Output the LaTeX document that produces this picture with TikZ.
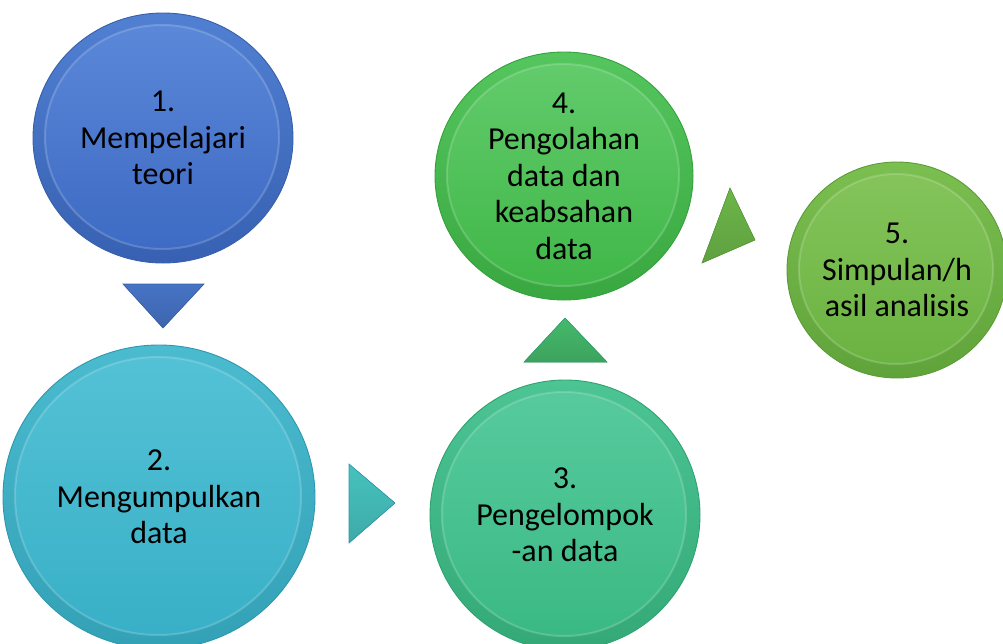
\documentclass[tikz,border=0pt]{standalone}
\usepackage{fontspec}
\newfontfamily\bubblefont{Carlito}
\usetikzlibrary{shapes.geometric,calc}

\tikzset{
  % bevelled disc: outer rim + slightly smaller inner face
  bubble/.style n args={4}{
    ellipse, inner sep=0pt, align=center,
    font=\bubblefont\fontsize{32}{36.5}\selectfont, text=black,
    top color=#2, bottom color=#3!92!black, draw=#4, line width=0.9pt,
    path picture={
      \shade[top color=#1, bottom color=#3]
        let \p1=(path picture bounding box.north east),
            \p2=(path picture bounding box.center) in
        ($(\p2)+(-1,-1)$) ellipse [x radius={\x1-\x2-13pt}, y radius={\y1-\y2-13pt}];
      \draw[white, opacity=0.18, line width=2pt]
        let \p1=(path picture bounding box.north east),
            \p2=(path picture bounding box.center) in
        ($(\p2)+(-1,-1)$) ellipse [x radius={\x1-\x2-13pt}, y radius={\y1-\y2-13pt}];
    }
  },
  pointer/.style 2 args={top color=#1, bottom color=#1!88!black, draw=#2, line width=0.6pt, line join=miter},
}

\definecolor{bA}{HTML}{5C89D9}\definecolor{bB}{HTML}{5180D2}\definecolor{bC}{HTML}{3C69C2}\definecolor{bE}{HTML}{3860AA}
\definecolor{cA}{HTML}{55C2D6}\definecolor{cB}{HTML}{4BBBD0}\definecolor{cC}{HTML}{37AFC6}\definecolor{cE}{HTML}{2E98AE}
\definecolor{dA}{HTML}{58CB9F}\definecolor{dB}{HTML}{4CC494}\definecolor{dC}{HTML}{39B882}\definecolor{dE}{HTML}{2FA271}
\definecolor{eA}{HTML}{64CC6D}\definecolor{eB}{HTML}{55C65E}\definecolor{eC}{HTML}{3EB646}\definecolor{eE}{HTML}{35A13D}
\definecolor{fA}{HTML}{86C55C}\definecolor{fB}{HTML}{7BBF50}\definecolor{fC}{HTML}{68B13F}\definecolor{fE}{HTML}{5B9C37}
\definecolor{tA}{HTML}{4673C5}\definecolor{tB}{HTML}{46C2BE}\definecolor{tC}{HTML}{45B96B}\definecolor{tD}{HTML}{6CB649}

\begin{document}
\begin{tikzpicture}[x=1pt,y=-1pt]
\useasboundingbox (0,0) rectangle (1003,643);
\clip (0,0) rectangle (1003,643);

% process stages
\node[bubble={bA}{bB}{bC}{bE}, minimum width=260pt, minimum height=250pt]
  (s1) at (163,138) {1.\\Mempelajari\\teori};
\node[bubble={cA}{cB}{cC}{cE}, minimum width=312pt, minimum height=304pt]
  (s2) at (159,497) {2.\\Mengumpulkan\\data};
\node[bubble={dA}{dB}{dC}{dE}, minimum width=270pt, minimum height=270pt]
  (s3) at (565,515) {3.\\Pengelompok\\-an data};
\node[bubble={eA}{eB}{eC}{eE}, minimum width=258pt, minimum height=248pt]
  (s4) at (564,176) {4.\\Pengolahan\\data dan\\keabsahan\\data};
\node[bubble={fA}{fB}{fC}{fE}, minimum width=220pt, minimum height=216pt]
  (s5) at (897,270) {5.\\Simpulan/h\\asil analisis};

% arrowheads between stages
\filldraw[pointer={tA}{bE}] (123,284) -- (204,284) -- (163,328) -- cycle;
\filldraw[pointer={tB}{cE}] (349,464) -- (395,503) -- (349,543) -- cycle;
\filldraw[pointer={tC}{dE}] (524,362) -- (565,318) -- (607,362) -- cycle;
\filldraw[pointer={tD}{fE}] (730,188) -- (755,240) -- (702,263) -- cycle;
\end{tikzpicture}
\end{document}
